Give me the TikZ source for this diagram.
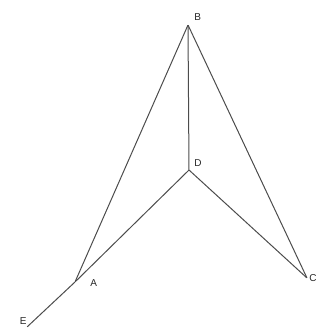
\documentclass[tikz,border=0pt]{standalone}
\usepackage{fontspec}
\setmainfont{Liberation Sans}
\usetikzlibrary{positioning, calc}

\begin{document}
\begin{tikzpicture}[
  x=1pt, y=-1pt,
  font=\fontsize{10}{12}\selectfont,
  pt/.style={inner sep=0pt, minimum size=0pt},
  lbl/.style={inner sep=1pt, text=black!85},
  edge/.style={draw=black!70, line width=1pt}
]
\useasboundingbox (0,0) rectangle (320,335);
% points
\node[pt] (B) at (188,25) {};
\node[pt] (D) at (189,170) {};
\node[pt] (A) at (75,282) {};
\node[pt] (C) at (307,278) {};
\node[pt] (E) at (27,327) {};
% labels
\node[lbl, right=5pt of B, yshift=8pt] (lB) {B};
\node[lbl, right=4pt of D, yshift=7pt] (lD) {D};
\node[lbl, right=14pt of A, yshift=-1pt] (lA) {A};
\node[lbl, right=1pt of C] (lC) {C};
\node[lbl, left=-1pt of E, yshift=6pt] (lE) {E};
% sides
\draw[edge] (B) -- (A);
\draw[edge] (B) -- (D);
\draw[edge] (B) -- (C);
\draw[edge] (D) -- (C);
\draw[edge] (D) -- (A) -- (E);
\end{tikzpicture}
\end{document}
